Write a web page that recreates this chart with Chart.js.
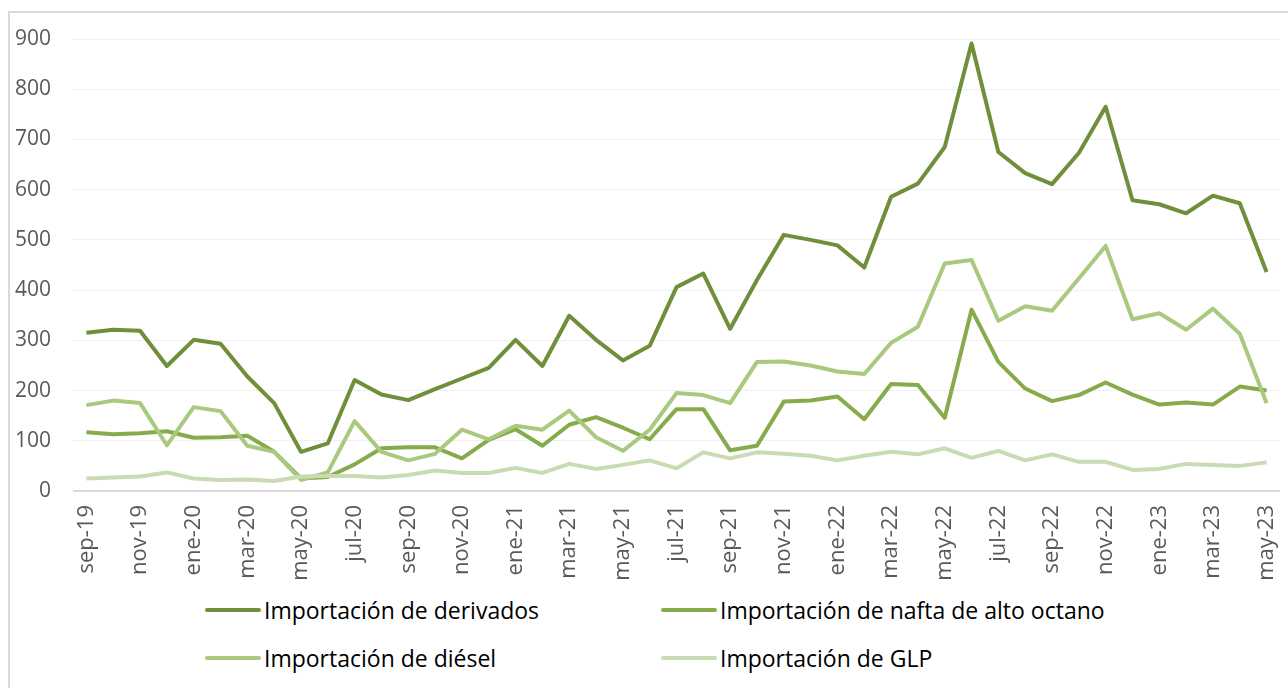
<!DOCTYPE html>
<html>
<head>
<meta charset="utf-8">
<script src="https://cdn.jsdelivr.net/npm/chart.js@4.4.1/dist/chart.umd.min.js"></script>
<style>
  html, body { margin: 0; padding: 0; background: #fff; width: 1288px; height: 688px; overflow: hidden; }
  .frame { position: absolute; left: 8px; top: 11px; width: 1300px; height: 700px; border-left: 2px solid #d9d9d9; border-top: 2px solid #d9d9d9; }
  .wrap { position: absolute; left: 0; top: 0; width: 1288px; height: 590px; }
  .legend { position: absolute; left: 0; top: 0; font-family: "Open Sans", sans-serif; font-size: 23px; color: #000; }
  .legend .item { position: absolute; display: flex; align-items: center; white-space: nowrap; }
  .legend .swatch { width: 56px; height: 4px; border-radius: 2px; margin-right: 3px; }
</style>
</head>
<body>
<div class="frame"></div>
<div class="wrap"><canvas id="chart" width="1288" height="590"></canvas></div>
<div class="legend" id="legend"></div>
<script>
  const labels = [
    'sep-19', 'oct-19', 'nov-19', 'dic-19', 'ene-20', 'feb-20', 'mar-20', 'abr-20', 'may-20', 'jun-20',
    'jul-20', 'ago-20', 'sep-20', 'oct-20', 'nov-20', 'dic-20', 'ene-21', 'feb-21', 'mar-21', 'abr-21',
    'may-21', 'jun-21', 'jul-21', 'ago-21', 'sep-21', 'oct-21', 'nov-21', 'dic-21', 'ene-22', 'feb-22',
    'mar-22', 'abr-22', 'may-22', 'jun-22', 'jul-22', 'ago-22', 'sep-22', 'oct-22', 'nov-22', 'dic-22',
    'ene-23', 'feb-23', 'mar-23', 'abr-23', 'may-23'
  ];

  const derivados = [315, 321, 319, 249, 301, 293, 228, 175, 78, 95,
    221, 192, 181, 203, 224, 245, 301, 249, 349, 301,
    260, 289, 406, 433, 323, 420, 510, 500, 489, 445,
    586, 612, 685, 891, 675, 633, 611, 673, 765, 579,
    571, 553, 588, 573, 436];

  const nafta = [117, 113, 115, 119, 106, 107, 110, 78, 25, 28,
    53, 85, 87, 87, 65, 102, 123, 90, 132, 147,
    126, 103, 163, 163, 81, 90, 178, 180, 188, 143,
    213, 211, 146, 361, 257, 204, 179, 191, 216, 192,
    172, 176, 172, 208, 200];

  const diesel = [171, 180, 175, 91, 167, 159, 90, 78, 22, 37,
    139, 78, 61, 74, 122, 103, 130, 122, 160, 107,
    80, 122, 195, 191, 175, 257, 258, 250, 238, 233,
    295, 327, 453, 460, 339, 368, 359, 423, 488, 342,
    354, 321, 363, 313, 175];

  const glp = [25, 27, 29, 37, 25, 22, 23, 20, 29, 30,
    30, 27, 32, 41, 36, 36, 46, 36, 54, 44,
    52, 61, 45, 77, 65, 77, 74, 70, 61, 70,
    78, 73, 85, 66, 80, 61, 73, 58, 58, 42,
    44, 54, 52, 50, 57];

  const seriesNames = [
    'Importación de derivados',
    'Importación de nafta de alto octano',
    'Importación de diésel',
    'Importación de GLP'
  ];
  const seriesColors = ['#6f8f3b', '#86ab4a', '#a9c97e', '#c8dbb2'];
  const seriesData = [derivados, nafta, diesel, glp];

  const yMax = 900;
  const yStep = 100;

  const tickColor = '#595959';

  const datasets = seriesData.map((data, i) => ({
    label: seriesNames[i],
    data,
    borderColor: seriesColors[i],
    backgroundColor: seriesColors[i],
    borderWidth: 4,
    pointRadius: 0,
    tension: 0,
    borderJoinStyle: 'round'
  }));

  new Chart(document.getElementById('chart'), {
    type: 'line',
    data: { labels, datasets: datasets.slice().reverse() },
    options: {
      responsive: false,
      animation: false,
      layout: { padding: { top: 39, right: 8, left: 0, bottom: 0 } },
      plugins: { legend: { display: false }, tooltip: { enabled: false } },
      scales: {
        x: {
          offset: true,
          grid: { display: false, drawTicks: false },
          border: { display: false },
          afterFit: (scale) => {
            scale.height = 99;
            scale.paddingLeft = 0;
            scale.paddingRight = 0;
          },
          ticks: {
            autoSkip: false,
            minRotation: 90,
            maxRotation: 90,
            padding: 14,
            color: tickColor,
            font: { family: '"Open Sans", sans-serif', size: 22 },
            callback: (value, index) => (index % 2 === 0 ? labels[index] : '')
          }
        },
        y: {
          min: 0,
          max: yMax,
          grid: {
            drawTicks: false,
            color: (ctx) => (ctx.tick && ctx.tick.value === 0 ? '#d9d9d9' : '#f0f0f0'),
            lineWidth: (ctx) => (ctx.tick && ctx.tick.value === 0 ? 2 : 1)
          },
          border: { display: false },
          afterFit: (scale) => {
            scale.width = 73;
            scale.paddingTop = 0;
            scale.paddingBottom = 0;
          },
          ticks: {
            stepSize: yStep,
            padding: 22,
            color: tickColor,
            font: { family: '"Open Sans", sans-serif', size: 21 }
          }
        }
      }
    }
  });

  const legendPos = [
    { left: 205, top: 610 },
    { left: 661, top: 610 },
    { left: 205, top: 658 },
    { left: 661, top: 658 }
  ];
  const legend = document.getElementById('legend');
  seriesNames.forEach((name, i) => {
    const item = document.createElement('div');
    item.className = 'item';
    item.style.left = legendPos[i].left + 'px';
    item.style.top = (legendPos[i].top - 16) + 'px';
    item.style.height = '32px';
    item.innerHTML = `<span class="swatch" style="background:${seriesColors[i]}"></span><span>${name}</span>`;
    legend.appendChild(item);
  });
</script>
</body>
</html>
